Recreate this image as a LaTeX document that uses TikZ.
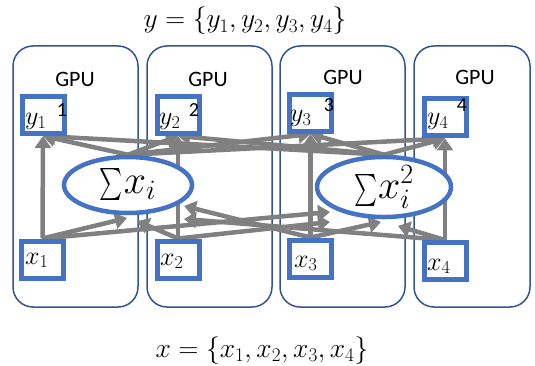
\RequirePackage{fix-cm}
\documentclass[tikz,border=0pt]{standalone}
\usepackage{amsmath}
\usepackage{fontspec}
\newfontfamily\gpufont{Carlito}
\usetikzlibrary{arrows.meta,shapes.geometric,calc}
\definecolor{gpuedge}{RGB}{47,85,151}
\definecolor{cellblue}{RGB}{68,114,196}
\definecolor{wire}{RGB}{128,128,128}
\pgfdeclarelayer{gpulayer}
\pgfdeclarelayer{wirelayer}
\pgfsetlayers{gpulayer,wirelayer,main}
% a narrow summation sign, 32pt tall, reaching 8pt below the baseline
\newcommand{\narrowsum}{\raisebox{-8pt}{\raisebox{\depth}{\resizebox*{23pt}{32pt}{$\textstyle\sum$}}}\kern1pt}

\begin{document}
\begin{tikzpicture}[x=1pt,y=-1pt,
  gpubox/.style={draw=gpuedge, line width=1.5pt, rounded corners=20pt,
    minimum height=261pt, inner sep=0pt},
  cell/.style={draw=cellblue, line width=5pt, fill=white,
    minimum width=42pt, minimum height=37pt, inner sep=0pt},
  sumnode/.style={ellipse, draw=cellblue, line width=4.5pt, fill=white, inner sep=0pt,
    font=\fontsize{40}{44}\selectfont},
  wirearrow/.style={draw=wire, line width=4.5pt, -{Triangle[length=12pt,width=16pt]}},
  gpulabel/.style={font=\gpufont\fontsize{22}{26}\selectfont, inner sep=0pt},
  idx/.style={font=\gpufont\fontsize{20}{24}\selectfont, inner sep=0pt},
  mathlabel/.style={font=\fontsize{26}{30}\selectfont, inner sep=0pt, anchor=base west},
  caption/.style={font=\fontsize{27.5}{32}\selectfont, inner sep=0pt, anchor=base}
]
\useasboundingbox (0,0) rectangle (535,366);

% four GPU partitions
\begin{pgfonlayer}{gpulayer}
  \node[gpubox, minimum width=125pt] (g1) at (75.5,176.5) {};
  \node[gpubox, minimum width=125pt] (g2) at (209.5,176.5) {};
  \node[gpubox, minimum width=125pt] (g3) at (342.5,176.5) {};
  \node[gpubox, minimum width=116pt] (g4) at (472,176.5) {};
\end{pgfonlayer}
\node[gpulabel] (gl1) at (75,79) {GPU};
\node[gpulabel] (gl2) at (208,79) {GPU};
\node[gpulabel] (gl3) at (343,77) {GPU};
\node[gpulabel] (gl4) at (475,77) {GPU};

% output cells
\node[cell] (y1) at (43,115) {};
\node[cell] (y2) at (178,115) {};
\node[cell] (y3) at (310.5,113) {};
\node[cell] (y4) at (445,117.5) {};
\node[mathlabel] (ly1) at (25,125) {$y_1$};
\node[mathlabel] (ly2) at (159,125) {$y_2$};
\node[mathlabel] (ly3) at (290,122) {$y_3$};
\node[mathlabel] (ly4) at (427,125) {$y_4$};
\node[idx] (n1) at (62,110) {1};
\node[idx] (n2) at (194,110) {2};
\node[idx] (n3) at (329,105) {3};
\node[idx] (n4) at (462,105) {4};

% input cells
\node[cell] (x1) at (42.5,259.5) {};
\node[cell] (x2) at (178,259.5) {};
\node[cell] (x3) at (310.5,258.5) {};
\node[cell] (x4) at (445,261) {};
\node[mathlabel] (lx1) at (25,264) {$x_1$};
\node[mathlabel] (lx2) at (160,265) {$x_2$};
\node[mathlabel] (lx3) at (294,267) {$x_3$};
\node[mathlabel] (lx4) at (427,270) {$x_4$};

% reduction nodes
\node[sumnode, minimum width=128pt, minimum height=56pt] (e1) at (128,185) {\narrowsum$x_i$};
\node[sumnode, minimum width=134pt, minimum height=59pt] (e2) at (384,187) {\narrowsum$x_i^2$};

% arrow tips arriving at the reduction nodes
\coordinate (a1) at (127,218);
\coordinate (a2) at (137,221);
\coordinate (a3) at (184,206);
\coordinate (a4) at (184,219);
\coordinate (b1) at (330,212);
\coordinate (b2) at (330,222);
\coordinate (b3) at (381,222);
\coordinate (b4) at (398,226);

\begin{pgfonlayer}{wirelayer}
  % each input feeds its own output directly
  \foreach \i in {1,2,3,4} {
    \draw[wirearrow] (x\i.north) -- (y\i.south);
  }
  % inputs into both reductions
  \foreach \i in {1,2,3,4} {
    \draw[wirearrow] (x\i.north) -- (a\i);
    \draw[wirearrow] (x\i.north) -- (b\i);
  }
  % reductions broadcast to every output
  \foreach \i in {1,2,3,4} {
    \draw[wirearrow] (e1.north) -- (y\i.south);
    \draw[wirearrow] (e2.north) -- (y\i.south);
  }
\end{pgfonlayer}

% set definitions
\node[caption] (ty) at (245,28) {$y = \{y_1, y_2, y_3, y_4\}$};
\node[caption] (tx) at (262,357) {$x = \{x_1, x_2, x_3, x_4\}$};
\end{tikzpicture}
\end{document}
